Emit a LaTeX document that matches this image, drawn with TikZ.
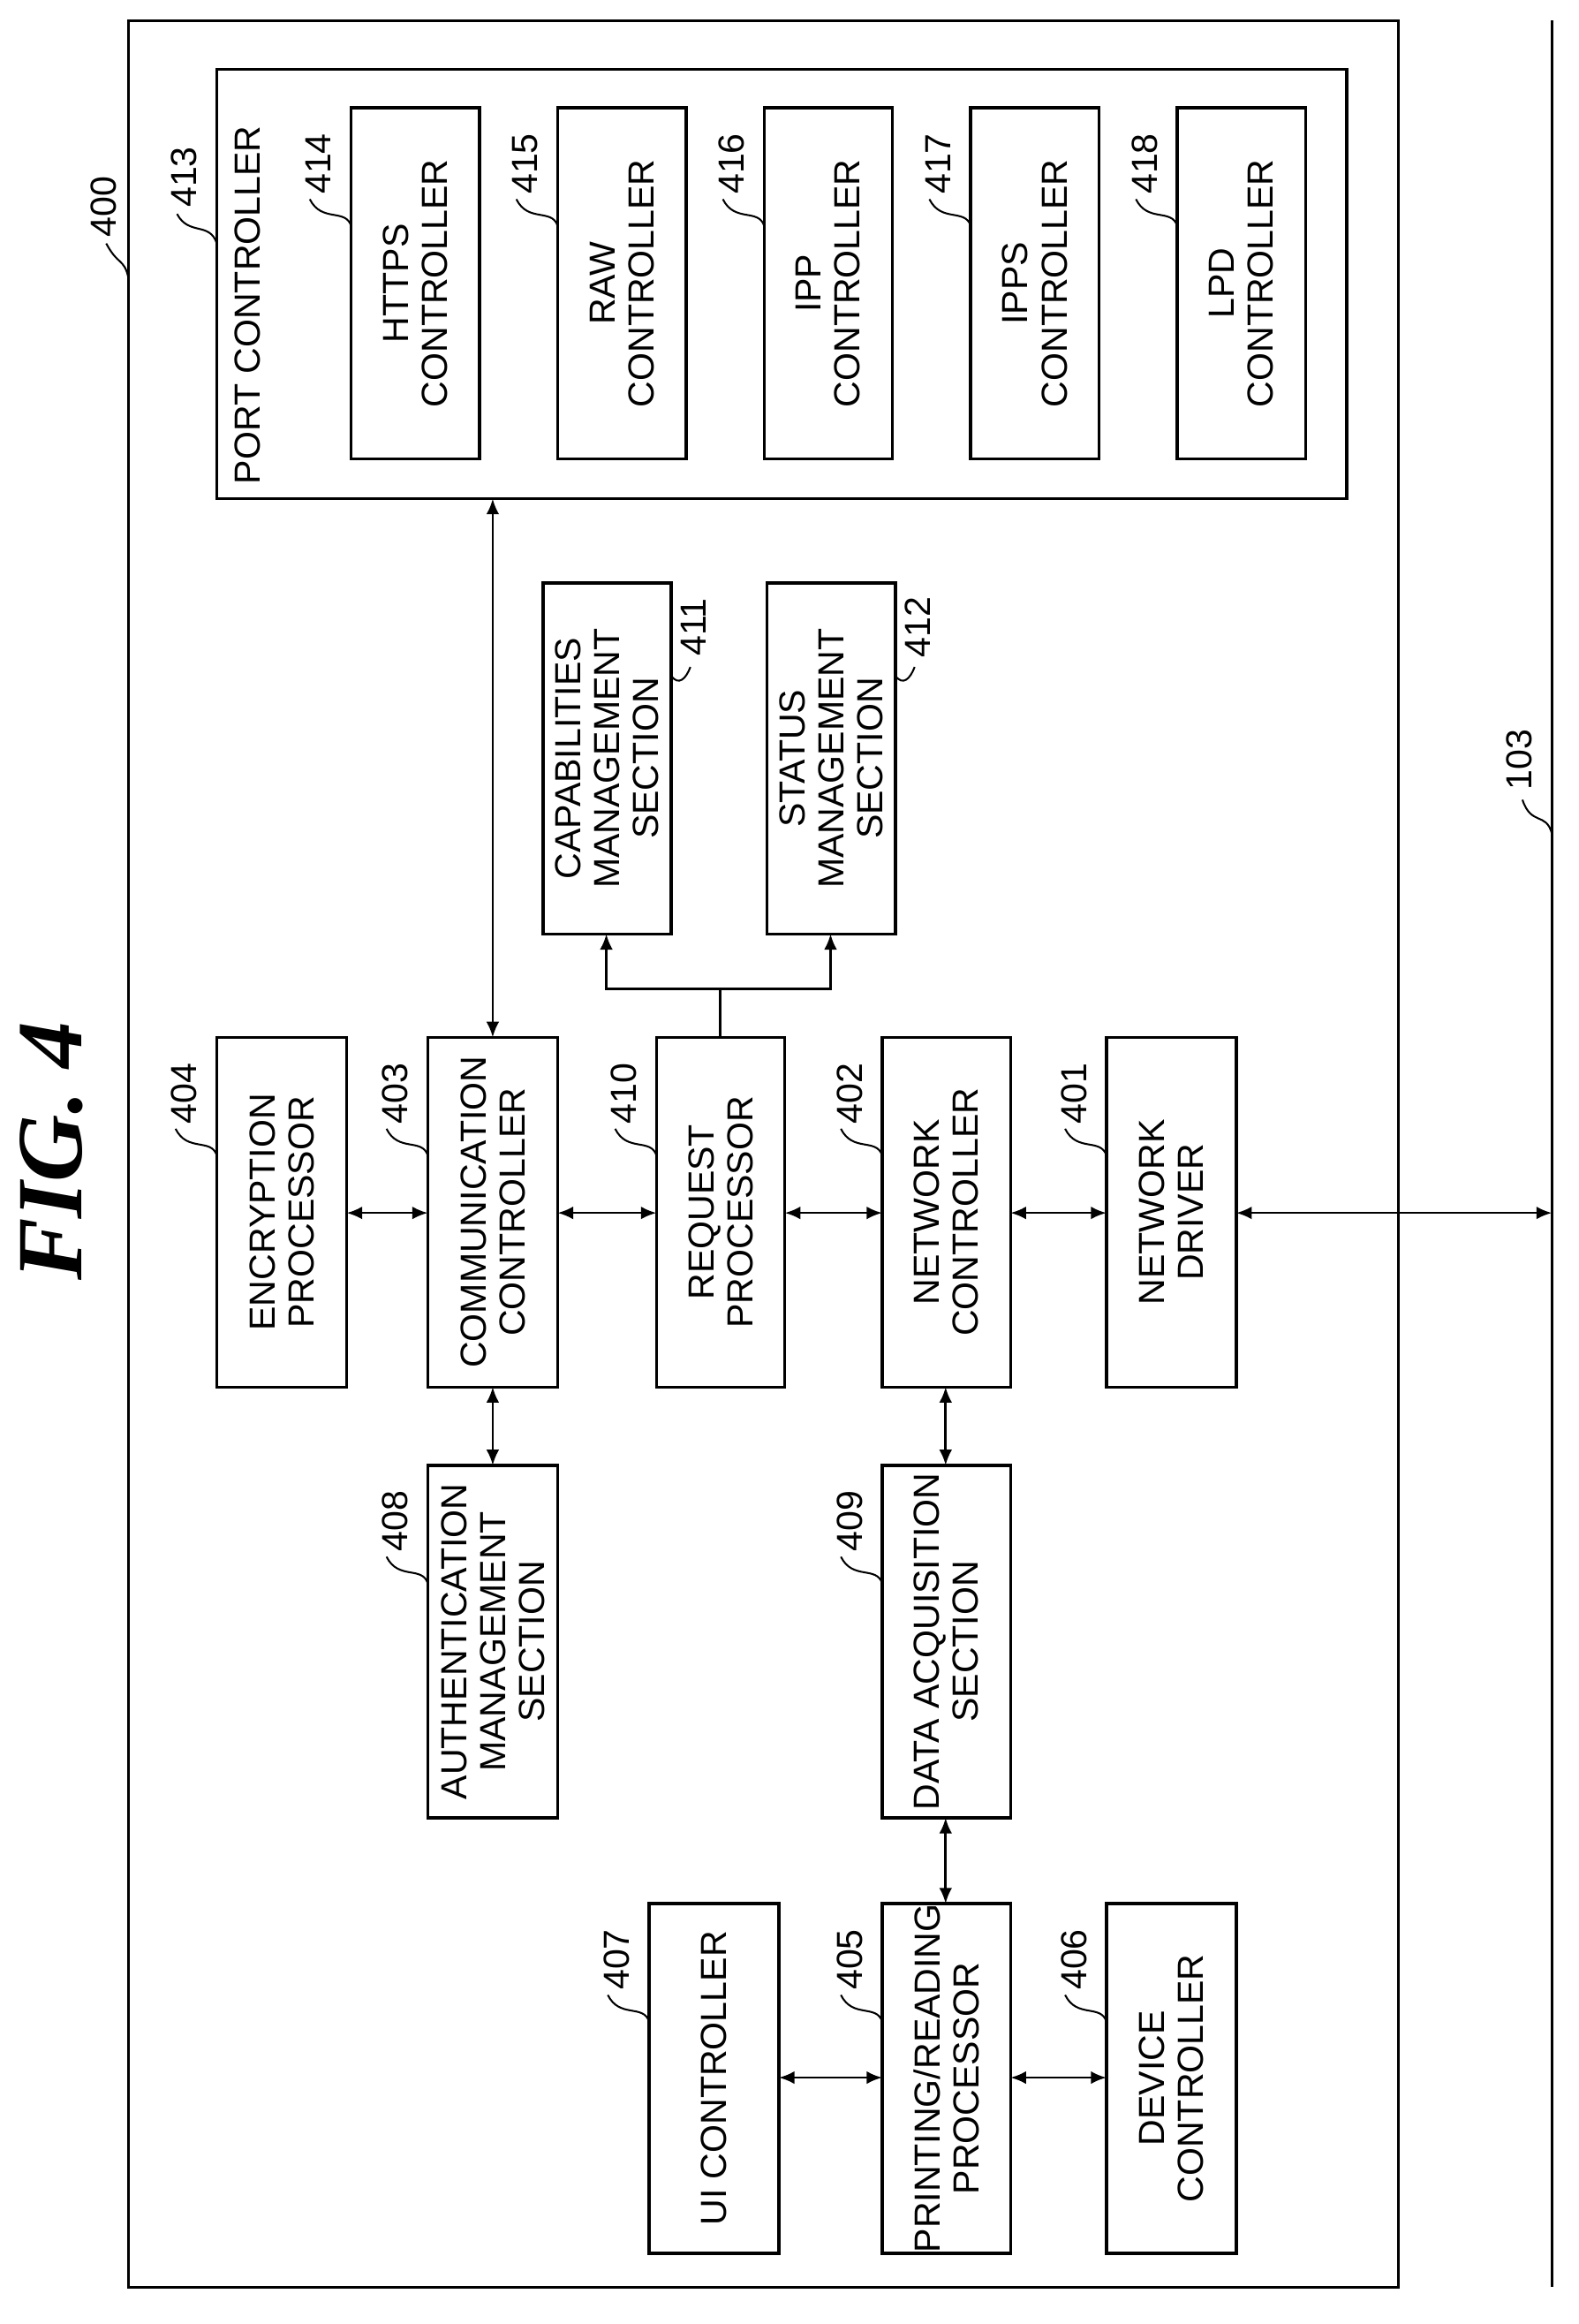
\documentclass[tikz,border=0pt]{standalone}
\usepackage{fontspec}
\setmainfont{Liberation Sans}
\newfontfamily\figfont{Liberation Serif}
\usetikzlibrary{arrows.meta}
\begin{document}
\begin{tikzpicture}[x=0.02cm,y=-0.02cm,
 box/.style={draw,line width=1.2pt,inner sep=0pt},
 txt/.style={rotate=90,align=center,font=\fontsize{14}{15}\selectfont},
 lab/.style={rotate=90,font=\fontsize{14}{15}\selectfont},
 dar/.style={line width=0.9pt,{Latex[length=6pt,width=5pt]}-{Latex[length=6pt,width=5pt]}},
 ld/.style={line width=0.7pt}]
\useasboundingbox (0,0) rectangle (1070,1575);
\newcommand{\bx}[6]{% name, x1,y1,x2,y2,text
 \draw[box] (#2,#3) rectangle (#4,#5);
 \node[txt] (#1) at ({(#2+#4)/2},{(#3+#5)/2}) {#6};
 \coordinate (#1-nw) at (#2,#3);}
\newcommand{\lb}[3]{% x(left), y(top), number
 \node[lab] (L#3) at ({#1-22},{#2+38}) {#3};
 \draw[ld] ({#1-28},{#2+62}) .. controls ({#1-20},{#2+78}) and ({#1-4},{#2+68}) .. ({#1},{#2+80});}
% outer
\draw[box] (87,14) rectangle (948,1550);
\node[lab] (L400) at (70,140) {400};
\draw[ld] (72,165) .. controls (80,180) and (84,175) .. (87,188);
\node[rotate=90,font=\figfont\bfseries\itshape\fontsize{36}{38}\selectfont] (fig) at (35,780) {FIG. 4};
% bus 103
\coordinate (b1) at (1052,14); \coordinate (b2) at (1052,1550);
\draw[line width=1.2pt] (b1) -- (b2);
\node[lab] (L103) at (1030,515) {103};
\draw[ld] (1032,542) .. controls (1038,560) and (1048,550) .. (1052,565);
% port controller
\draw[box] (147,47) rectangle (913,338);
\node[lab,anchor=north west,inner sep=2pt] (pc) at (155,332) {PORT CONTROLLER};
\node[lab] (L413) at (125,120) {413};
\draw[ld] (120,145) .. controls (128,160) and (142,150) .. (147,165);
\bx{h}{238}{73}{325}{311}{HTTPS\\CONTROLLER}\lb{238}{73}{414}
\bx{r}{378}{73}{465}{311}{RAW\\CONTROLLER}\lb{378}{73}{415}
\bx{i}{518}{73}{605}{311}{IPP\\CONTROLLER}\lb{518}{73}{416}
\bx{is}{658}{73}{745}{311}{IPPS\\CONTROLLER}\lb{658}{73}{417}
\bx{l}{798}{73}{885}{311}{LPD\\CONTROLLER}\lb{798}{73}{418}
% capabilities/status
\bx{cap}{368}{395}{455}{633}{CAPABILITIES\\MANAGEMENT\\SECTION}
\node[lab] (L411) at (470,425) {411};
\draw[ld] (455,458) .. controls (460,465) and (465,460) .. (468,452);
\bx{st}{520}{395}{607}{633}{STATUS\\MANAGEMENT\\SECTION}
\node[lab] (L412) at (622,425) {412};
\draw[ld] (607,458) .. controls (612,465) and (617,460) .. (620,452);
% main column
\bx{enc}{147}{703}{235}{940}{ENCRYPTION\\PROCESSOR}\lb{147}{703}{404}
\bx{com}{290}{703}{378}{940}{COMMUNICATION\\CONTROLLER}\lb{290}{703}{403}
\bx{req}{445}{703}{532}{940}{REQUEST\\PROCESSOR}\lb{445}{703}{410}
\bx{nc}{598}{703}{685}{940}{NETWORK\\CONTROLLER}\lb{598}{703}{402}
\bx{nd}{750}{703}{838}{940}{NETWORK\\DRIVER}\lb{750}{703}{401}
\bx{auth}{290}{993}{378}{1232}{AUTHENTICATION\\MANAGEMENT\\SECTION}\lb{290}{993}{408}
\bx{da}{598}{993}{685}{1232}{DATA ACQUISITION\\SECTION}\lb{598}{993}{409}
\bx{ui}{440}{1290}{528}{1527}{UI CONTROLLER}\lb{440}{1290}{407}
\bx{pr}{598}{1290}{685}{1527}{PRINTING/READING\\PROCESSOR}\lb{598}{1290}{405}
\bx{dev}{750}{1290}{838}{1527}{DEVICE\\CONTROLLER}\lb{750}{1290}{406}
% connectors
\draw[dar] (334,703) -- (334,338);
\draw[line width=0.9pt] (488,703) -- (488,670);
\draw[dar] (411,633) -- (411,670) -- (563,670) -- (563,633);
\draw[dar] (235,822) -- (290,822);
\draw[dar] (378,822) -- (445,822);
\draw[dar] (532,822) -- (598,822);
\draw[dar] (685,822) -- (750,822);
\draw[dar] (838,822) -- (b1 |- 0,822);
\draw[dar] (334,940) -- (334,993);
\draw[dar] (641,940) -- (641,993);
\draw[dar] (641,1232) -- (641,1290);
\draw[dar] (528,1408) -- (598,1408);
\draw[dar] (685,1408) -- (750,1408);
\end{tikzpicture}
\end{document}
